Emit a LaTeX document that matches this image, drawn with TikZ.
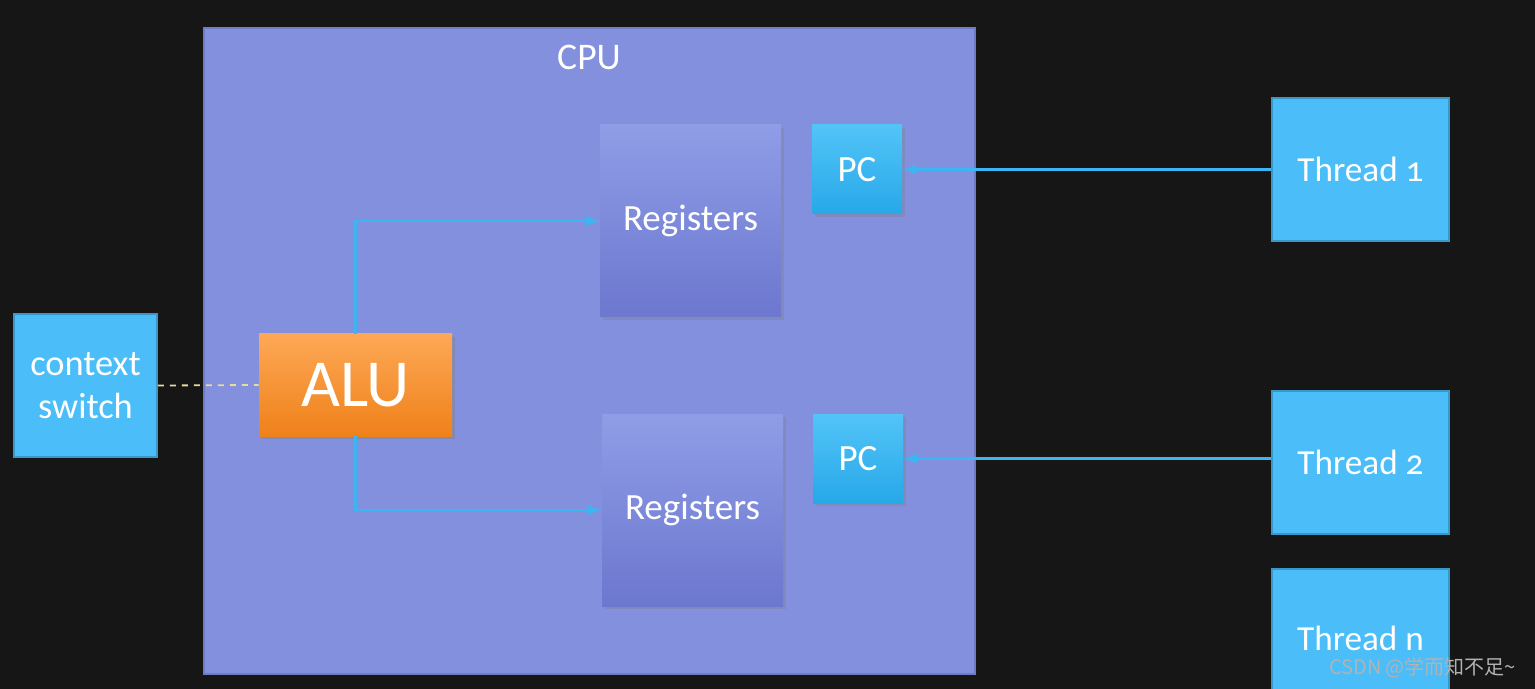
\documentclass[tikz,border=0pt]{standalone}
\usepackage{fontspec}
\setmainfont[Numbers=OldStyle]{Carlito}
\newfontfamily\cjk{Noto Sans CJK SC}
\usetikzlibrary{arrows,shadows}

\definecolor{board}{HTML}{161616}
\definecolor{cpufill}{HTML}{8290DD}
\definecolor{cpuline}{HTML}{6E7CC6}
\definecolor{regtop}{HTML}{8F9DE7}
\definecolor{regbot}{HTML}{6C77CE}
\definecolor{pctop}{HTML}{52C4F8}
\definecolor{pcbot}{HTML}{27A8E8}
\definecolor{thread}{HTML}{4BBEF9}
\definecolor{threadline}{HTML}{3A98C8}
\definecolor{alutop}{HTML}{FDA856}
\definecolor{alubot}{HTML}{EF8119}
\definecolor{wire}{HTML}{3CB6F2}
\definecolor{dash}{HTML}{E6DC9C}

\begin{document}
\begin{tikzpicture}[x=0.5pt,y=-0.5pt,>=latex,
    cpubox/.style={draw=cpuline,line width=0.8pt,fill=cpufill},
    regbox/.style={top color=regtop,bottom color=regbot,
        drop shadow={opacity=0.35,shadow xshift=1.5pt,shadow yshift=-1.5pt},
        minimum width=90.5pt,minimum height=96pt,inner sep=0pt,text=white,font=\fontsize{18.5}{22}\selectfont},
    pcbox/.style={top color=pctop,bottom color=pcbot,
        drop shadow={opacity=0.35,shadow xshift=1.5pt,shadow yshift=-1.5pt},
        minimum width=45pt,minimum height=44.5pt,inner sep=0pt,text=white,font=\fontsize{18.5}{22}\selectfont},
    threadbox/.style={fill=thread,draw=threadline,line width=0.8pt,
        minimum width=88.5pt,minimum height=71.5pt,inner sep=0pt,text=white,font=\fontsize{17.6}{21}\selectfont},
    alubox/.style={top color=alutop,bottom color=alubot,
        drop shadow={opacity=0.4,shadow xshift=1.5pt,shadow yshift=-1.5pt},
        minimum width=96.5pt,minimum height=51pt,inner sep=0pt,text=white,font=\fontsize{33.6}{40}\selectfont},
    link/.style={->,draw=wire,line width=1.3pt},
    dashlink/.style={draw=dash,dashed,line width=0.9pt}]
    % board and frame
    \fill[board] (0,0) rectangle (1535,689);
    \clip (0,0) rectangle (1535,689);
    \useasboundingbox (0,0) rectangle (1535,689);

    \node[cpubox,minimum width=385.5pt,minimum height=323pt,inner sep=0pt] (cpu) at (589.5,351) {};
    \node[text=white,font=\fontsize{18.8}{22}\selectfont] (cputitle) at (589,57) {CPU};

    \node[regbox] (regone) at (690.5,221) {\raisebox{-1.5pt}{Registers}};
    \node[regbox] (regtwo) at (692.5,510) {\raisebox{-1.5pt}{Registers}};
    \node[pcbox] (pcone) at (857,169.5) {PC};
    \node[pcbox] (pctwo) at (858,458.5) {PC};
    \node[alubox] (alu) at (355.5,385) {ALU};

    \node[threadbox] (tone) at (1360.5,169.5) {Thread 1};
    \node[threadbox] (ttwo) at (1360.5,462.5) {Thread 2};
    \node[threadbox,anchor=north] (tn) at (1360.5,568) {};
    \node[text=white,font=\fontsize{17.6}{21}\selectfont] (tnlabel) at (1360.5,638) {Thread n};

    \node[threadbox,minimum width=71.5pt,align=center,font=\fontsize{18.2}{21.5}\selectfont] (ctx) at (85.5,385.5) {context\\switch};

    % connectors
    \draw[link] (alu.north) |- (regone.west);
    \draw[link] (alu.south) |- (regtwo.west);
    \draw[link] (pcone.east -| tone.west) -- (pcone.east);
    \draw[link] (pctwo.east -| ttwo.west) -- (pctwo.east);
    \draw[dashlink] (ctx.east) -- (alu.west);

    \node[anchor=east,text=gray!60,font=\cjk\fontsize{10}{12}\selectfont] (mark) at (1523,668) {CSDN @学而知不足\textasciitilde};
\end{tikzpicture}
\end{document}
